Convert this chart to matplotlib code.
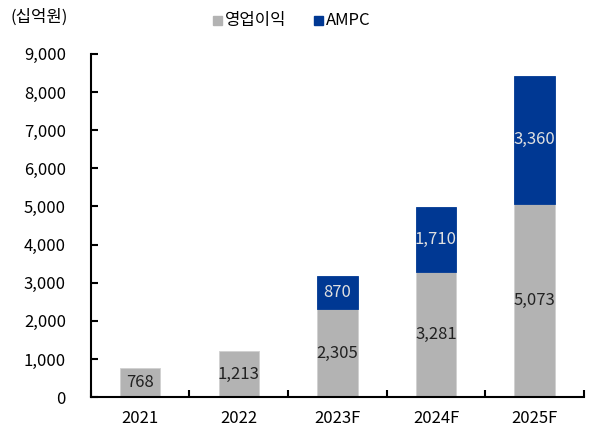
import matplotlib.pyplot as plt
import numpy as np

plt.rcParams['font.family'] = ['Noto Sans CJK KR', 'DejaVu Sans']

years = ["2021", "2022", "2023F", "2024F", "2025F"]
op_profit = [768, 1213, 2305, 3281, 5073]
ampc = [0, 0, 870, 1710, 3360]
yticks = [0, 1000, 2000, 3000, 4000, 5000, 6000, 7000, 8000, 9000]

gray = "#b3b3b3"
blue = "#003893"

fig = plt.figure(figsize=(5.94, 4.28), dpi=100)
ax = fig.add_axes([0.153, 0.072, 0.83, 0.802])

x = np.arange(len(years))
ax.bar(x, op_profit, width=0.41, color=gray, edgecolor="#d0d0d0", linewidth=0.6)

for i in range(len(years)):
    ax.text(x[i], op_profit[i] / 2, f"{op_profit[i]:,}", ha="center", va="center",
            fontsize=12, color="#222222")
    if ampc[i] > 0:
        ax.bar(x[i], ampc[i], width=0.41, bottom=op_profit[i], color=blue,
               edgecolor=blue, linewidth=0.6)
        ax.text(x[i], op_profit[i] + ampc[i] / 2, f"{ampc[i]:,}", ha="center", va="center",
                fontsize=12, color="#e0e0e0")

ax.set_xlim(-0.5, len(years) - 0.5)
ax.set_ylim(0, 9000)
ax.set_yticks(yticks)
ax.set_yticklabels([f"{v:,}" for v in yticks], fontsize=12)
ax.set_xticks(x)
ax.set_xticklabels(years, fontsize=12)
ax.set_xticks(np.arange(-0.5, len(years)), minor=True)
ax.tick_params(axis="x", which="major", length=0, pad=9)
ax.tick_params(axis="x", which="minor", direction="in", length=5, width=1.5)
ax.tick_params(axis="y", direction="in", length=5, width=1.5, pad=18)

for s in ["top", "right"]:
    ax.spines[s].set_visible(False)
for s in ["left", "bottom"]:
    ax.spines[s].set_linewidth(1.5)

fig.text(0.017, 0.96, "(십억원)", fontsize=12, va="center")
fig.patches.append(plt.Rectangle((0.359, 0.941), 0.015, 0.021, color=gray,
                                 transform=fig.transFigure, figure=fig))
fig.text(0.378, 0.952, "영업이익", fontsize=12, va="center")
fig.patches.append(plt.Rectangle((0.529, 0.941), 0.015, 0.021, color=blue,
                                 transform=fig.transFigure, figure=fig))
fig.text(0.549, 0.952, "AMPC", fontsize=12, va="center")

fig.savefig("out.png", dpi=100)
